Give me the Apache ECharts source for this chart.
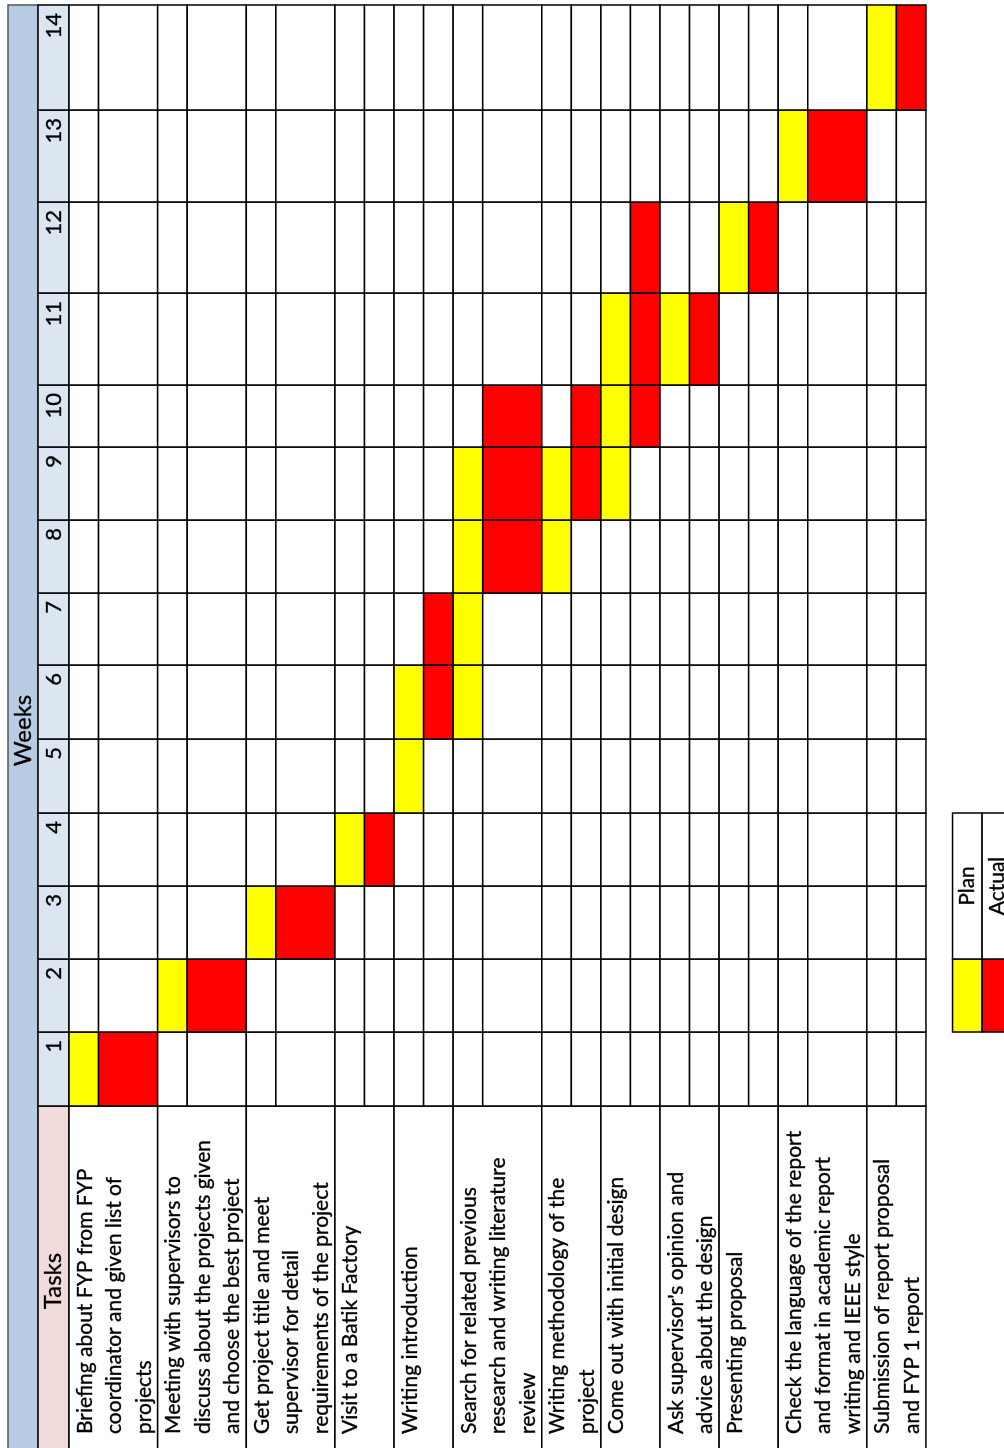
<!DOCTYPE html>
<html>
<head>
<meta charset="utf-8">
<title>FYP Gantt chart</title>
<script src="https://cdn.jsdelivr.net/npm/echarts@6/dist/echarts.min.js"></script>
<style>
  html, body { margin: 0; padding: 0; background: #fff; }
  #chart { width: 1004px; height: 1448px; }
</style>
</head>
<body>
<div id="chart"></div>
<script>
// task names, one entry per line as they wrap in the sheet
const tasks = [
  ['Briefing about FYP from FYP', 'coordinator and given list of', 'projects'],
  ['Meeting with supervisors to', 'discuss about the projects given', 'and choose the best project'],
  ['Get project title and meet', 'supervisor for detail', 'requirements of the project'],
  ['Visit to a Batik Factory'],
  ['Writing introduction'],
  ['Search for related previous', 'research and writing literature', 'review'],
  ['Writing methodology of the', 'project'],
  ['Come out with initial design'],
  ["Ask supervisor's opinion and", 'advice about the design'],
  ['Presenting proposal'],
  ['Check the language of the report', 'and format in academic report', 'writing and IEEE style'],
  ['Submission of report proposal', 'and FYP 1 report']
]
const weeks = [1, 2, 3, 4, 5, 6, 7, 8, 9, 10, 11, 12, 13, 14]
const planStart = [1, 2, 3, 4, 5, 6, 8, 9, 11, 12, 13, 14]
const planEnd = [1, 2, 3, 4, 6, 9, 9, 11, 11, 12, 13, 14]
const actualStart = [1, 2, 3, 4, 6, 8, 9, 10, 11, 12, 13, 14]
const actualEnd = [1, 2, 3, 4, 7, 10, 10, 12, 11, 12, 13, 14]
const legendNames = ['Plan', 'Actual']

// sheet layout (the table is turned a quarter turn, weeks run bottom -> top)
const COL_W = [342, 74, 73, 73, 73, 74, 74, 72, 73, 73, 62, 92, 91, 92, 105]
const ROW_H = 29.55
const BAND_W = 30
const HEAD_W = 31
const FONT = 'Lato'
const FS = 21
const HEAD_FS = 24
const COLORS = ['#FFFFFF', '#FFFF00', '#FF0000']
const LINE = '#000'

// column edges along the y value axis
const colEdges = [[-8, COL_W[0]]]
let acc = COL_W[0]
for (let i = 1; i < COL_W.length; i++) {
  colEdges.push([acc, acc + COL_W[i]])
  acc += COL_W[i]
}
const yMax = acc

// row edges along the x value axis
const rows = []
const taskRows = []
let xPos = BAND_W + HEAD_W
tasks.forEach((lines, i) => {
  const first = rows.length
  rows.push({ task: i, kind: 'plan', x0: xPos, x1: xPos + ROW_H })
  xPos += ROW_H
  const u = Math.max(1, lines.length - 1)
  rows.push({ task: i, kind: 'actual', x0: xPos, x1: xPos + u * ROW_H })
  xPos += u * ROW_H
  taskRows.push([rows[first].x0, xPos])
})
const tableEnd = xPos

const rect = (api, x0, x1, y0, y1) => {
  const a = api.coord([x0, y1])
  const b = api.coord([x1, y0])
  return { x: a[0], y: a[1], width: b[0] - a[0], height: b[1] - a[1] }
}

const txt = (x, y, text, align, vAlign, size) => ({
  type: 'text',
  x: x,
  y: y,
  rotation: Math.PI / 2,
  style: {
    text: text,
    fill: '#000',
    stroke: '#000',
    lineWidth: 0.35,
    fontFamily: FONT,
    fontSize: size || FS,
    align: align,
    verticalAlign: vAlign,
    lineHeight: ROW_H
  }
})

// cell data
const cellData = []
rows.forEach((row, r) => {
  weeks.forEach(w => {
    const t = row.task
    let s = 0
    if (row.kind === 'plan' && w >= planStart[t] && w <= planEnd[t]) s = 1
    if (row.kind === 'actual' && w >= actualStart[t] && w <= actualEnd[t]) s = 2
    cellData.push([r, w, s])
  })
})

const myChart = echarts.init(document.getElementById('chart'))

myChart.setOption({
  animation: false,
  grid: { left: 8, right: 0, top: 5, bottom: 0 },
  xAxis: { type: 'value', min: 0, max: 996, show: false },
  yAxis: { type: 'value', min: 0, max: yMax, show: false },
  series: [
    {
      // header band "Weeks" and the "Tasks" header cell
      type: 'custom',
      data: [[0], [1]],
      renderItem: (params, api) => {
        if (api.value(0) === 0) {
          const sh = rect(api, 0, BAND_W, -8, yMax)
          return {
            type: 'group',
            children: [
              { type: 'rect', shape: sh, style: { fill: '#B8CCE4', stroke: '#555', lineWidth: 1.5 } },
              txt(sh.x + sh.width / 2, sh.y + sh.height / 2, 'Weeks', 'center', 'middle', HEAD_FS)
            ]
          }
        }
        const sh = rect(api, BAND_W, BAND_W + HEAD_W, colEdges[0][0], colEdges[0][1])
        return {
          type: 'group',
          children: [
            { type: 'rect', shape: sh, style: { fill: '#F2DCDB', stroke: LINE, lineWidth: 1.5 } },
            txt(sh.x + sh.width / 2, sh.y + (sh.height - 8) / 2 + 4, 'Tasks', 'center', 'middle', HEAD_FS)
          ]
        }
      }
    },
    {
      // week numbers
      type: 'custom',
      data: weeks.map(w => [w]),
      renderItem: (params, api) => {
        const w = api.value(0)
        const sh = rect(api, BAND_W, BAND_W + HEAD_W, colEdges[w][0], colEdges[w][1])
        return {
          type: 'group',
          children: [
            { type: 'rect', shape: sh, style: { fill: '#DCE6F1', stroke: LINE, lineWidth: 1.5 } },
            txt(sh.x + sh.width / 2, sh.y + 8, String(w), 'right', 'middle', 22)
          ]
        }
      }
    },
    {
      // task name cells
      type: 'custom',
      data: tasks.map((t, i) => [i]),
      renderItem: (params, api) => {
        const i = api.value(0)
        const sh = rect(api, taskRows[i][0], taskRows[i][1], colEdges[0][0], colEdges[0][1])
        const p = api.coord([taskRows[i][0], 14])
        return {
          type: 'group',
          children: [
            { type: 'rect', shape: sh, style: { fill: '#fff', stroke: LINE, lineWidth: 1.5 } },
            txt(p[0] + 1, p[1], tasks[i].join('\n'), 'left', 'top')
          ]
        }
      }
    },
    {
      // plan / actual grid
      type: 'custom',
      data: cellData,
      renderItem: (params, api) => {
        const row = rows[api.value(0)]
        const w = api.value(1)
        return {
          type: 'rect',
          shape: rect(api, row.x0, row.x1, colEdges[w][0], colEdges[w][1]),
          style: { fill: COLORS[api.value(2)], stroke: LINE, lineWidth: 1.5 }
        }
      }
    },
    {
      // legend block to the right of the table
      type: 'custom',
      data: legendNames.map((n, i) => [i]),
      renderItem: (params, api) => {
        const i = api.value(0)
        const x0 = tableEnd + (0.9 + i) * ROW_H
        const x1 = x0 + ROW_H
        const swatch = rect(api, x0, x1, colEdges[2][0], colEdges[2][1])
        const label = rect(api, x0, x1, colEdges[3][0], colEdges[4][1])
        return {
          type: 'group',
          children: [
            { type: 'rect', shape: swatch, style: { fill: COLORS[i + 1], stroke: LINE, lineWidth: 1.5 } },
            { type: 'rect', shape: label, style: { fill: '#fff', stroke: LINE, lineWidth: 1.5 } },
            txt(label.x + label.width / 2, label.y + label.height / 2, legendNames[i], 'center', 'middle')
          ]
        }
      }
    }
  ]
})
</script>
</body>
</html>
